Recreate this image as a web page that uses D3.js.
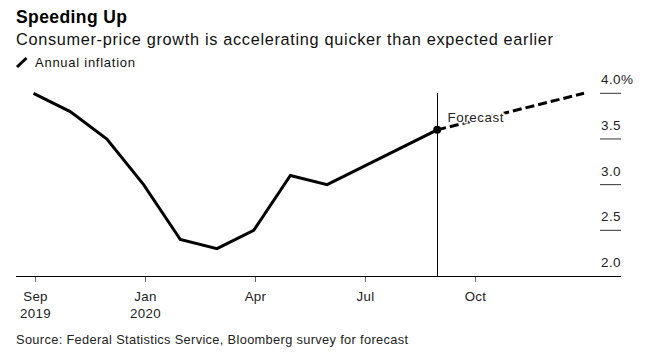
<!DOCTYPE html>
<html><head><meta charset="utf-8">
<script src="https://cdn.jsdelivr.net/npm/d3@7"></script>
<style>
html,body{margin:0;padding:0;background:#fff;}
svg{display:block;font-family:"Liberation Sans",Arial,sans-serif;}
</style></head>
<body><svg id="c" width="658" height="352"></svg>
<script>
const months = ["Sep 2019","Oct 2019","Nov 2019","Dec 2019","Jan 2020","Feb 2020","Mar 2020","Apr 2020","May 2020","Jun 2020","Jul 2020","Aug 2020","Sep 2020","Oct 2020","Nov 2020","Dec 2020"];
const actualMonths = months.slice(0, 12);
const inflation = [4.0, 3.8, 3.5, 3.0, 2.4, 2.3, 2.5, 3.1, 3.0, 3.2, 3.4, 3.6];
const forecastMonths = ["Aug 2020", "Dec 2020"];
const forecast = [3.6, 4.0];
const xTickMonths = ["Sep 2019","Dec 2019","Mar 2020","Jun 2020","Sep 2020"];
const xTickLabels = [["Sep","2019"],["Jan","2020"],["Apr"],["Jul"],["Oct"]];
const yTicks = [2.0, 2.5, 3.0, 3.5, 4.0];
const yTickLabels = ["2.0","2.5","3.0","3.5","4.0"];

const svg = d3.select("#c");
const idx = m => months.indexOf(m);
const x = d3.scaleLinear().domain([0, months.length - 1]).range([33.5, 584]);
const y = d3.scaleLinear().domain([2, 4]).range([276, 93.3]);

// titles
svg.append("text").attr("x", 16).attr("y", 23).attr("font-size", 17.5).attr("font-weight", "bold").attr("fill", "#000")
  .attr("textLength", 111).attr("lengthAdjust", "spacing").text("Speeding Up");
svg.append("text").attr("x", 16).attr("y", 45).attr("font-size", 16.3).attr("fill", "#111")
  .attr("textLength", 537).attr("lengthAdjust", "spacing").text("Consumer-price growth is accelerating quicker than expected earlier");
// legend
svg.append("line").attr("x1", 17).attr("y1", 67).attr("x2", 26.5).attr("y2", 58).attr("stroke", "#000").attr("stroke-width", 3);
svg.append("text").attr("x", 35).attr("y", 67).attr("font-size", 13).attr("fill", "#111")
  .attr("textLength", 100).attr("lengthAdjust", "spacing").text("Annual inflation");

// y ticks (short segments + labels)
const yg = svg.append("g");
yTicks.forEach((t, i) => {
  if (t > 2.0) yg.append("line").attr("x1", 600).attr("x2", 621).attr("y1", y(t)).attr("y2", y(t)).attr("stroke", "#333").attr("stroke-width", 1);
  yg.append("text").attr("x", 621).attr("y", y(t) - 9).attr("font-size", 13.5).attr("fill", "#222")
    .attr("text-anchor", "end").attr("letter-spacing", 0.4).text(yTickLabels[i]);
  if (i === yTicks.length - 1) {
    yg.append("text").attr("x", 621).attr("y", y(t) - 9).attr("font-size", 13.5).attr("fill", "#222").text("%");
  }
});

// x axis
svg.append("line").attr("x1", 16).attr("x2", 621).attr("y1", 276.5).attr("y2", 276.5).attr("stroke", "#000").attr("stroke-width", 1);
xTickMonths.forEach((m, i) => {
  const px = Math.round(x(idx(m)) + 1) + 0.5;
  svg.append("line").attr("x1", px).attr("x2", px).attr("y1", 277).attr("y2", 282).attr("stroke", "#666");
  xTickLabels[i].forEach((lab, j) => {
    svg.append("text").attr("x", px).attr("y", 301 + j * 17).attr("text-anchor", "middle").attr("font-size", 13.3).attr("fill", "#222")
      .attr("letter-spacing", 0.3).text(lab);
  });
});

// forecast divider
const fx = Math.round(x(idx(forecastMonths[0]))) + 0.5;
svg.append("line").attr("x1", fx).attr("x2", fx).attr("y1", 93).attr("y2", 276).attr("stroke", "#000").attr("stroke-width", 1);

// lines
const line = d3.line().x(d => x(idx(d[0]))).y(d => y(d[1]));
svg.append("path").attr("d", line(actualMonths.map((m, i) => [m, inflation[i]])))
  .attr("fill", "none").attr("stroke", "#000").attr("stroke-width", 3).attr("stroke-linejoin", "miter");
svg.append("path").attr("d", line(forecastMonths.map((m, i) => [m, forecast[i]])))
  .attr("fill", "none").attr("stroke", "#000").attr("stroke-width", 3).attr("stroke-dasharray", "9,4");
svg.append("circle").attr("cx", x(idx(forecastMonths[0]))).attr("cy", y(forecast[0])).attr("r", 4).attr("fill", "#000");

svg.append("text").attr("x", fx + 10).attr("y", 122).attr("font-size", 13.5).attr("fill", "#222")
  .attr("stroke", "#fff").attr("stroke-width", 3).attr("paint-order", "stroke")
  .attr("textLength", 56).attr("lengthAdjust", "spacing").text("Forecast");

// source
svg.append("text").attr("x", 16).attr("y", 344).attr("font-size", 12.8).attr("fill", "#222")
  .attr("textLength", 392).attr("lengthAdjust", "spacing").text("Source: Federal Statistics Service, Bloomberg survey for forecast");
</script></body></html>
